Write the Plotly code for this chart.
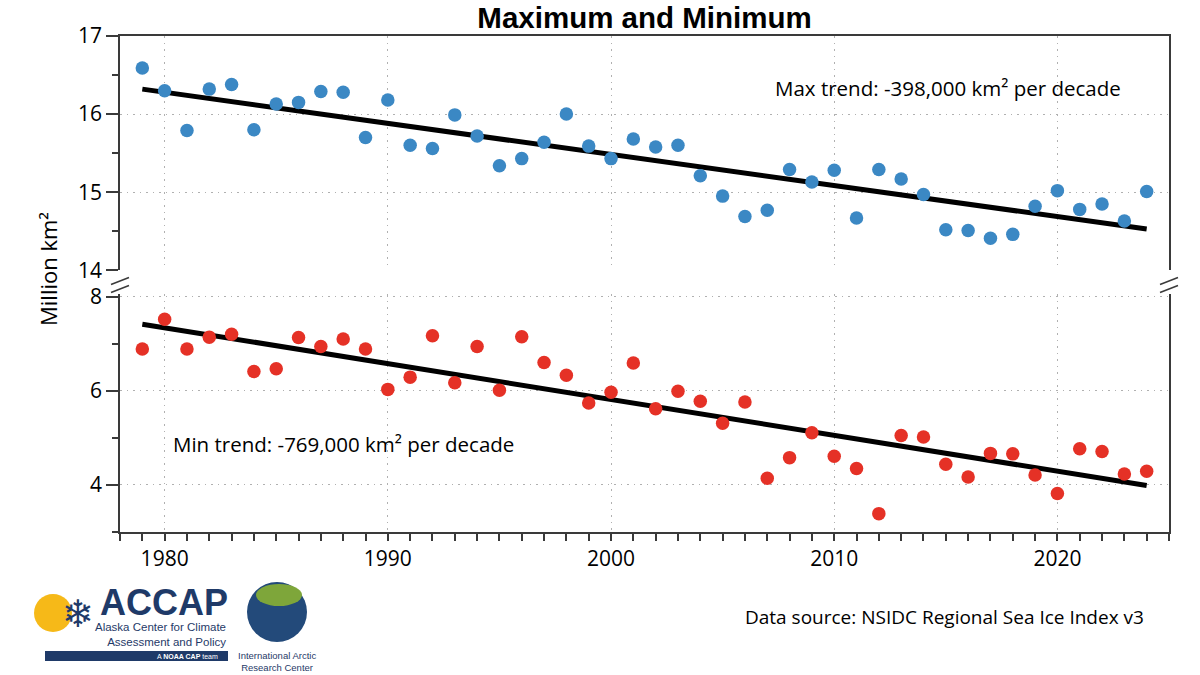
import numpy as np
import plotly.graph_objects as go

# ---------------- data ----------------
years = list(range(1979, 2025))
max_extent = [16.59, 16.30, 15.79, 16.32, 16.38, 15.80, 16.13, 16.15, 16.29, 16.28,
              15.70, 16.18, 15.60, 15.56, 15.99, 15.72, 15.34, 15.43, 15.64, 16.00,
              15.59, 15.43, 15.68, 15.58, 15.60, 15.21, 14.95, 14.69, 14.77, 15.29,
              15.13, 15.28, 14.67, 15.29, 15.17, 14.97, 14.52, 14.51, 14.41, 14.46,
              14.82, 15.02, 14.78, 14.85, 14.63, 15.01]
min_extent = [6.89, 7.52, 6.89, 7.14, 7.20, 6.41, 6.47, 7.13, 6.94, 7.10,
              6.89, 6.03, 6.29, 7.17, 6.17, 6.94, 6.01, 7.15, 6.60, 6.33,
              5.74, 5.97, 6.59, 5.62, 5.99, 5.78, 5.31, 5.76, 4.14, 4.58,
              5.11, 4.61, 4.35, 3.39, 5.05, 5.02, 4.44, 4.17, 4.67, 4.66,
              4.21, 3.82, 4.77, 4.71, 4.23, 4.29]
x_ticks = [1980, 1990, 2000, 2010, 2020]
max_label = "Max trend: -398,000 km² per decade"
min_label = "Min trend: -769,000 km² per decade"

BLUE = "#3b88c4"
RED = "#e53126"
NAVY = "#1f3a68"
FONT = "Open Sans"

yrs = np.array(years, dtype=float)
pmax = np.polyfit(yrs, np.array(max_extent), 1)
pmin = np.polyfit(yrs, np.array(min_extent), 1)
trend_x = [years[0], years[-1]]
trend_max = list(np.polyval(pmax, trend_x))
trend_min = list(np.polyval(pmin, trend_x))

fig = go.Figure()
fig.add_trace(go.Scatter(x=trend_x, y=trend_max, mode="lines",
                         line=dict(color="black", width=5), xaxis="x2", yaxis="y2",
                         showlegend=False, hoverinfo="skip"))
fig.add_trace(go.Scatter(x=years, y=max_extent, mode="markers",
                         marker=dict(color=BLUE, size=13.5), xaxis="x2", yaxis="y2",
                         name="Maximum", showlegend=False))
fig.add_trace(go.Scatter(x=trend_x, y=trend_min, mode="lines",
                         line=dict(color="black", width=5), xaxis="x", yaxis="y",
                         showlegend=False, hoverinfo="skip"))
fig.add_trace(go.Scatter(x=years, y=min_extent, mode="markers",
                         marker=dict(color=RED, size=13.5), xaxis="x", yaxis="y",
                         name="Minimum", showlegend=False))

# plot-area geometry helpers (paper coordinates from pixel positions)
L, R, T, B = 120, 1169, 36, 532
W, H = R - L, B - T


def px(xp):
    return (xp - L) / W


def py(yp):
    return (B - yp) / H


AXCOL = "#3a3a3a"
GRID = "#b0b0b0"
GDASH = "1.5px,5px"

common_x = dict(range=[1978, 2025], showgrid=True, gridcolor=GRID, griddash=GDASH,
                gridwidth=1.2, zeroline=False, linecolor=AXCOL, linewidth=1.5,
                tickvals=x_ticks)
fig.update_layout(
    width=1200, height=675,
    margin=dict(l=L, r=1200 - R, t=T, b=675 - B),
    paper_bgcolor="white", plot_bgcolor="white",
    font=dict(family=FONT, color="black", size=21),
    title=dict(text="<b>Maximum and Minimum</b>", x=0.5, xref="paper",
               y=1 - 18 / 675, yref="container", xanchor="center", yanchor="middle",
               font=dict(family="Liberation Sans", size=29.5, color="black")),
    xaxis=dict(**common_x, anchor="y", showline=True, ticks="outside", ticklen=7,
               tickwidth=1.5, tickcolor=AXCOL,
               tickfont=dict(size=21, family=FONT),
               minor=dict(dtick=1, tick0=1978, ticks="outside", ticklen=7,
                          tickwidth=1.5, tickcolor=AXCOL, showgrid=False)),
    xaxis2=dict(**common_x, anchor="y2", matches="x", side="top", showline=True,
                showticklabels=False, ticks=""),
    yaxis=dict(domain=[0, py(294.3)], range=[3, 8.05], anchor="x",
               tickvals=[4, 6, 8], showline=True, mirror=True, linecolor=AXCOL,
               linewidth=1.5, ticks="outside", ticklen=12, tickwidth=1.5,
               tickcolor=AXCOL, zeroline=False, showgrid=True, gridcolor=GRID,
               griddash=GDASH, gridwidth=1.2, tickfont=dict(size=21, family=FONT),
               minor=dict(tickvals=[3, 5, 7], ticks="outside", ticklen=6,
                          tickwidth=1.5, tickcolor=AXCOL, showgrid=False)),
    yaxis2=dict(domain=[py(270.3), 1], range=[14, 17], anchor="x2",
                tickvals=[14, 15, 16, 17], showline=True, mirror=True, linecolor=AXCOL,
                linewidth=1.5, ticks="outside", ticklen=12, tickwidth=1.5,
                tickcolor=AXCOL, zeroline=False, showgrid=True, gridcolor=GRID,
                griddash=GDASH, gridwidth=1.2, tickfont=dict(size=21, family=FONT),
                minor=dict(tickvals=[14.5, 15.5, 16.5], ticks="outside", ticklen=6,
                           tickwidth=1.5, tickcolor=AXCOL, showgrid=False)),
)

# annotations
fig.add_annotation(x=2007.25, y=16.33, xref="x2", yref="y2", text=max_label,
                   showarrow=False, xanchor="left", yanchor="middle",
                   font=dict(size=20.5, family=FONT))
fig.add_annotation(x=1980.3, y=4.88, xref="x", yref="y", text=min_label,
                   showarrow=False, xanchor="left", yanchor="middle",
                   font=dict(size=20.5, family=FONT))
fig.add_annotation(x=px(48), y=py(269), xref="paper", yref="paper",
                   text="Million km²", textangle=-90, showarrow=False,
                   xanchor="center", yanchor="middle", font=dict(size=22, family=FONT))
fig.add_annotation(x=px(1146), y=py(617), xref="paper", yref="paper",
                   text="Data source: NSIDC Regional Sea Ice Index v3", showarrow=False,
                   xanchor="right", yanchor="middle", font=dict(size=19, family=FONT))

# axis-break marks
shapes = []
for cx in (120, 1169):
    for cy in (281, 289):
        shapes.append(dict(type="line", xref="paper", yref="paper",
                           x0=px(cx - 9), y0=py(cy + 3.5), x1=px(cx + 9), y1=py(cy - 3.5),
                           line=dict(color=AXCOL, width=1.5)))

# logo approximations
shapes.append(dict(type="circle", xref="paper", yref="paper",
                   x0=px(34), x1=px(72), y0=py(632), y1=py(594),
                   fillcolor="#f6b918", line=dict(width=0)))
shapes.append(dict(type="rect", xref="paper", yref="paper",
                   x0=px(45), x1=px(228), y0=py(661), y1=py(651),
                   fillcolor=NAVY, line=dict(width=0)))
shapes.append(dict(type="circle", xref="paper", yref="paper",
                   x0=px(247), x1=px(307), y0=py(642), y1=py(582),
                   fillcolor="#234a7a", line=dict(width=0)))
shapes.append(dict(type="circle", xref="paper", yref="paper",
                   x0=px(256), x1=px(302), y0=py(606), y1=py(584),
                   fillcolor="#7ea63a", line=dict(width=0)))
fig.update_layout(shapes=shapes)

fig.add_annotation(x=px(78), y=py(614), xref="paper", yref="paper", text="❄",
                   showarrow=False, xanchor="center", yanchor="middle",
                   font=dict(size=38, family="DejaVu Sans", color=NAVY))
fig.add_annotation(x=px(98), y=py(602), xref="paper", yref="paper", text="<b>ACCAP</b>",
                   showarrow=False, xanchor="left", yanchor="middle",
                   font=dict(size=36, family="Liberation Sans", color=NAVY))
fig.add_annotation(x=px(228), y=py(634.5), xref="paper", yref="paper",
                   text="Alaska Center for Climate<br>Assessment and Policy",
                   showarrow=False, xanchor="right", yanchor="middle", align="right",
                   font=dict(size=11.5, family="Liberation Sans", color=NAVY))
fig.add_annotation(x=px(220), y=py(656), xref="paper", yref="paper",
                   text="A <b>NOAA CAP</b> team", showarrow=False, xanchor="right",
                   yanchor="middle", font=dict(size=7, family="Liberation Sans", color="white"))
fig.add_annotation(x=px(277), y=py(661.5), xref="paper", yref="paper",
                   text="International Arctic<br>Research Center", showarrow=False,
                   xanchor="center", yanchor="middle",
                   font=dict(size=9.5, family="Liberation Sans", color=NAVY))

fig.write_html("out.html")
